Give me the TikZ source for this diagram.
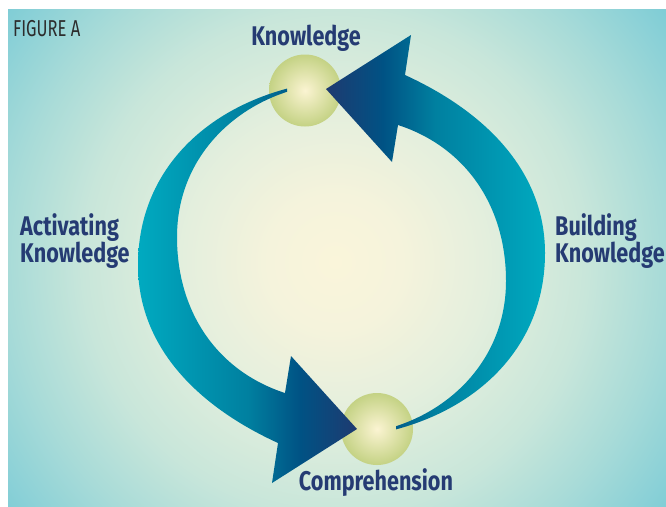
\documentclass[tikz,border=0pt]{standalone}
\usepackage{fontspec}
\setmainfont{Fira Sans}[FakeStretch=0.80]
\newfontfamily\figfont{Fira Sans}[FakeStretch=0.72]
\definecolor{navy}{RGB}{37,59,115}
\definecolor{figgray}{RGB}{45,45,45}
\definecolor{bg0}{RGB}{250,245,218}
\definecolor{bg1}{RGB}{245,243,220}
\definecolor{bg2}{RGB}{228,239,221}
\definecolor{bg3}{RGB}{200,230,218}
\definecolor{bg4}{RGB}{168,219,216}
\definecolor{bg5}{RGB}{125,204,214}
\definecolor{ac1}{RGB}{0,170,192}
\definecolor{ac2}{RGB}{0,128,160}
\definecolor{ac3}{RGB}{0,82,132}
\definecolor{ac4}{RGB}{30,58,112}
\definecolor{circC}{RGB}{251,244,210}
\definecolor{circE}{RGB}{196,210,132}
\pgfdeclareradialshading{bgshade}{\pgfpoint{0bp}{0bp}}{color(0bp)=(bg0); color(4bp)=(bg1); color(9bp)=(bg2); color(15bp)=(bg3); color(19.5bp)=(bg4); color(25bp)=(bg5); color(50bp)=(bg5)}
\pgfdeclarehorizontalshading{arrowL}{100bp}{color(0bp)=(ac1); color(25bp)=(ac1); color(50bp)=(ac2); color(62bp)=(ac3); color(75bp)=(ac4); color(100bp)=(ac4)}
\pgfdeclarehorizontalshading{arrowR}{100bp}{color(0bp)=(ac4); color(25bp)=(ac4); color(38bp)=(ac3); color(50bp)=(ac2); color(75bp)=(ac1); color(100bp)=(ac1)}
\tikzset{
  ball/.style={circle, minimum size=72pt, inner sep=0pt, shading=radial, inner color=circC, outer color=circE},
  lbl/.style={inner sep=0pt, text=navy, font=\fontsize{27}{27}\selectfont\bfseries},
}
\newcommand{\arrowpath}{%
  (287,88.6) .. controls (200,112) and (138,175) .. (138,265)
  .. controls (138,345) and (195,405) .. (278,443)
  -- (272,483) -- (357,429) -- (291,356) -- (285,393)
  .. controls (220,372) and (177,315) .. (177,237)
  .. controls (177,165) and (225,112) .. (287,91.8)
  -- cycle}
\begin{document}
\begin{tikzpicture}[x=1pt,y=-1pt]
\useasboundingbox (0,0) rectangle (666,506);
\begin{scope}
  \clip (8,9) rectangle (666,506);
  \shade[shading=bgshade] (335,262) circle[radius=420pt];
\end{scope}
\node[ball] (know) at (305,90.5) {};
\node[ball] (comp) at (377,429) {};
\shade[shading=arrowL] \arrowpath;
\begin{scope}[rotate around={180:(341.5,259)}]
  \shade[shading=arrowR] \arrowpath;
\end{scope}
\node[lbl, anchor=base] (tknow) at (306,45) {Knowledge};
\node[lbl, anchor=base] (tcomp) at (376,490) {Comprehension};
\node[lbl, anchor=base west] (act1) at (20,235) {Activating};
\node[lbl, anchor=base west] (act2) at (20,262) {Knowledge};
\node[lbl, anchor=base west] (bld1) at (555,235) {Building};
\node[lbl, anchor=base west] (bld2) at (555,262) {Knowledge};
\node[inner sep=0pt, anchor=base west, text=figgray, font=\figfont\fontsize{23}{23}\selectfont] (fig) at (13,36) {FIGURE A};
\end{tikzpicture}
\end{document}
